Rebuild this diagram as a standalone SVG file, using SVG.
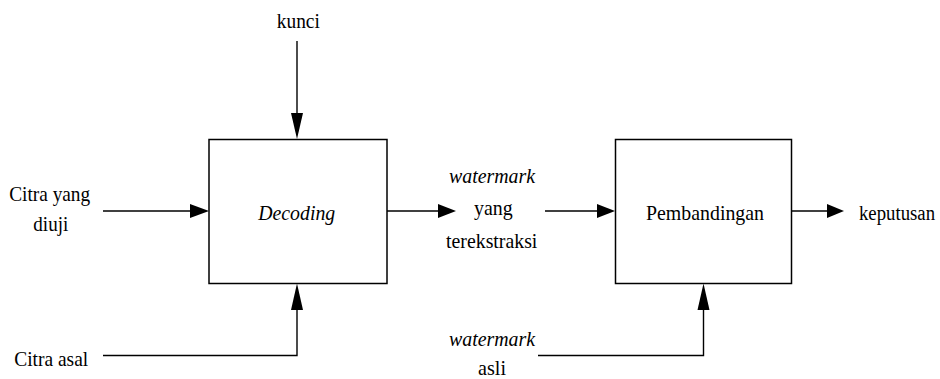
<svg xmlns="http://www.w3.org/2000/svg" width="940" height="379" viewBox="0 0 940 379">
  <style>
    .box { fill: #fff; stroke: #000; stroke-width: 1.5; }
    .wire { fill: none; stroke: #000; stroke-width: 1.4; }
    .head { fill: #000; stroke: none; }
  </style>
  <rect width="940" height="379" fill="#fff"/>

  <!-- connectors -->
  <g id="connectors">
    <!-- kunci -> Decoding -->
    <line class="wire" x1="297" y1="41" x2="297" y2="114"/>
    <polygon class="head" points="291,113 303,113 297,139"/>
    <!-- Citra yang diuji -> Decoding -->
    <line class="wire" x1="103" y1="211" x2="191" y2="211"/>
    <polygon class="head" points="190,204 190,218 209,211"/>
    <!-- Citra asal -> Decoding -->
    <polyline class="wire" points="103,355.5 297,355.5 297,309"/>
    <polygon class="head" points="291,310 303,310 297,283.5"/>
    <!-- Decoding -> watermark yang terekstraksi -->
    <line class="wire" x1="387" y1="211" x2="439" y2="211"/>
    <polygon class="head" points="438,204 438,218 456,211"/>
    <!-- watermark yang terekstraksi -> Pembandingan -->
    <line class="wire" x1="545" y1="211" x2="598" y2="211"/>
    <polygon class="head" points="597,204 597,218 615,211"/>
    <!-- watermark asli -> Pembandingan -->
    <polyline class="wire" points="538,355.5 703.5,355.5 703.5,309"/>
    <polygon class="head" points="697.5,310 709.5,310 703.5,283.5"/>
    <!-- Pembandingan -> keputusan -->
    <line class="wire" x1="792" y1="211" x2="828" y2="211"/>
    <polygon class="head" points="827,204 827,218 844,211"/>
  </g>

  <g font-family="Liberation Serif, Times New Roman, serif" font-size="22" fill="#000" text-anchor="middle">
    <g id="decoding">
      <rect class="box" x="209" y="139.5" width="178" height="144"/>
      <text font-style="italic" x="296.7" y="220" textLength="77" lengthAdjust="spacingAndGlyphs">Decoding</text>
    </g>

    <g id="pembandingan">
      <rect class="box" x="615.5" y="139.5" width="176" height="144"/>
      <text x="705" y="219.5" textLength="118" lengthAdjust="spacingAndGlyphs">Pembandingan</text>
    </g>

    <g id="kunci">
      <text x="298.3" y="28" textLength="43" lengthAdjust="spacingAndGlyphs">kunci</text>
    </g>

    <g id="citra-uji">
      <text x="49.7" y="201" textLength="81" lengthAdjust="spacingAndGlyphs">Citra yang</text>
      <text x="50.8" y="231" textLength="35" lengthAdjust="spacingAndGlyphs">diuji</text>
    </g>

    <g id="citra-asal">
      <text x="51.2" y="366" textLength="74" lengthAdjust="spacingAndGlyphs">Citra asal</text>
    </g>

    <g id="watermark-ekstraksi">
      <text font-style="italic" x="492" y="183" textLength="86" lengthAdjust="spacingAndGlyphs">watermark</text>
      <text x="493.4" y="215" textLength="38.7" lengthAdjust="spacingAndGlyphs">yang</text>
      <text x="491.7" y="247.5" textLength="91.3" lengthAdjust="spacingAndGlyphs">terekstraksi</text>
    </g>

    <g id="watermark-asli">
      <text font-style="italic" x="492" y="346" textLength="86" lengthAdjust="spacingAndGlyphs">watermark</text>
      <text x="492" y="374.5" textLength="28" lengthAdjust="spacingAndGlyphs">asli</text>
    </g>

    <g id="keputusan">
      <text text-anchor="start" x="859" y="220" textLength="76" lengthAdjust="spacingAndGlyphs" font-size="20">keputusan</text>
    </g>
  </g>
</svg>
